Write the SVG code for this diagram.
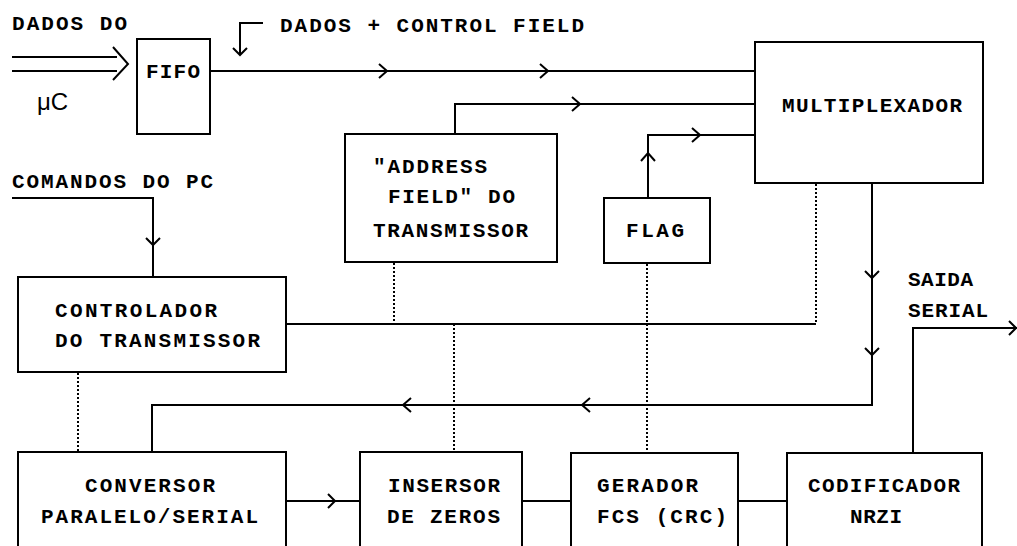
<svg xmlns="http://www.w3.org/2000/svg" width="1017" height="546" viewBox="0 0 1017 546">
<style>
.b{fill:#fff;stroke:#000;stroke-width:2}
.c{fill:none;stroke:#000;stroke-width:2}
.d{fill:none;stroke:#000;stroke-width:2;stroke-dasharray:2 2}
.t{font-family:"Liberation Mono","DejaVu Sans Mono",monospace;font-weight:bold;font-size:21px;fill:#000}
.s{font-family:"Liberation Sans",Arial,sans-serif;font-size:24px;fill:#000}
</style>
<rect width="1017" height="546" fill="#fff"/>
<g id="connectors">
<path class="c" d="M12 57H117M12 71H117"/>
<polyline class="c" points="113,47 128,64 113,80"/>
<path class="c" d="M263 23H240V55"/>
<polyline class="c" points="233,48 240,55 247,48"/>
<path class="c" d="M210 71H755"/>
<polyline class="c" points="379,64 387,71 379,78"/>
<polyline class="c" points="540,64 548,71 540,78"/>
<path class="c" d="M455 134V104H755"/>
<polyline class="c" points="572,97 580,104 572,111"/>
<path class="c" d="M648 198V135H755"/>
<polyline class="c" points="641,161 648,153 655,161"/>
<polyline class="c" points="692,128 700,135 692,142"/>
<path class="c" d="M12 198H153V277"/>
<polyline class="c" points="146,238 153,245 160,238"/>
<path class="c" d="M286 324H816"/>
<path class="d" d="M816 184V324"/>
<path class="d" d="M394 263V324"/>
<path class="d" d="M454 324V452"/>
<path class="d" d="M647 264V452"/>
<path class="d" d="M78 373V452"/>
<path class="c" d="M872 183V405H152V452"/>
<polyline class="c" points="865,271 872,278 879,271"/>
<polyline class="c" points="865,348 872,355 879,348"/>
<polyline class="c" points="411,398 403,405 411,412"/>
<polyline class="c" points="590,398 582,405 590,412"/>
<path class="c" d="M286 501H360"/>
<polyline class="c" points="328,494 335,501 328,508"/>
<path class="c" d="M522 501H571M738 501H787"/>
<path class="c" d="M913 453V328H1017"/>
<polyline class="c" points="1009,321 1016,328 1009,335"/>
</g>
<g id="labels">
<text class="t" x="12" y="30" textLength="115" lengthAdjust="spacing">DADOS DO</text>
<text class="s" x="37" y="110">μC</text>
<text class="t" x="280" y="32" textLength="304" lengthAdjust="spacing">DADOS + CONTROL FIELD</text>
<text class="t" x="12" y="188" textLength="201" lengthAdjust="spacing">COMANDOS DO PC</text>
<text class="t" x="908" y="286" textLength="65" lengthAdjust="spacing">SAIDA</text>
<text class="t" x="908" y="317" textLength="80" lengthAdjust="spacing">SERIAL</text>
</g>
<g id="fifo">
<rect class="b" x="137" y="39" width="73" height="95"/>
<text class="t" x="146" y="78" textLength="54" lengthAdjust="spacing">FIFO</text>
</g>
<g id="multiplexador">
<rect class="b" x="755" y="42" width="228" height="141"/>
<text class="t" x="782" y="112" textLength="180" lengthAdjust="spacing">MULTIPLEXADOR</text>
</g>
<g id="address">
<rect class="b" x="345" y="134" width="212" height="128"/>
<text class="t" x="373" y="173" textLength="114" lengthAdjust="spacing">"ADDRESS</text>
<text class="t" x="388" y="203" textLength="127" lengthAdjust="spacing">FIELD" DO</text>
<text class="t" x="373" y="237" textLength="155" lengthAdjust="spacing">TRANSMISSOR</text>
</g>
<g id="flag">
<rect class="b" x="604" y="198" width="106" height="65"/>
<text class="t" x="626" y="237" textLength="58" lengthAdjust="spacing">FLAG</text>
</g>
<g id="controlador">
<rect class="b" x="18" y="277" width="268" height="95"/>
<text class="t" x="55" y="317" textLength="162" lengthAdjust="spacing">CONTROLADOR</text>
<text class="t" x="55" y="347" textLength="205" lengthAdjust="spacing">DO TRANSMISSOR</text>
</g>
<g id="conversor">
<rect class="b" x="18" y="452" width="268" height="110"/>
<text class="t" x="85" y="492" textLength="130" lengthAdjust="spacing">CONVERSOR</text>
<text class="t" x="41" y="523" textLength="217" lengthAdjust="spacing">PARALELO/SERIAL</text>
</g>
<g id="insersor">
<rect class="b" x="360" y="452" width="162" height="110"/>
<text class="t" x="388" y="492" textLength="112" lengthAdjust="spacing">INSERSOR</text>
<text class="t" x="387" y="523" textLength="113" lengthAdjust="spacing">DE ZEROS</text>
</g>
<g id="gerador">
<rect class="b" x="571" y="453" width="167" height="110"/>
<text class="t" x="597" y="492" textLength="101" lengthAdjust="spacing">GERADOR</text>
<text class="t" x="597" y="523" textLength="130" lengthAdjust="spacing">FCS (CRC)</text>
</g>
<g id="codificador">
<rect class="b" x="787" y="453" width="195" height="110"/>
<text class="t" x="808" y="492" textLength="152" lengthAdjust="spacing">CODIFICADOR</text>
<text class="t" x="850" y="523" textLength="52" lengthAdjust="spacing">NRZI</text>
</g>
</svg>
